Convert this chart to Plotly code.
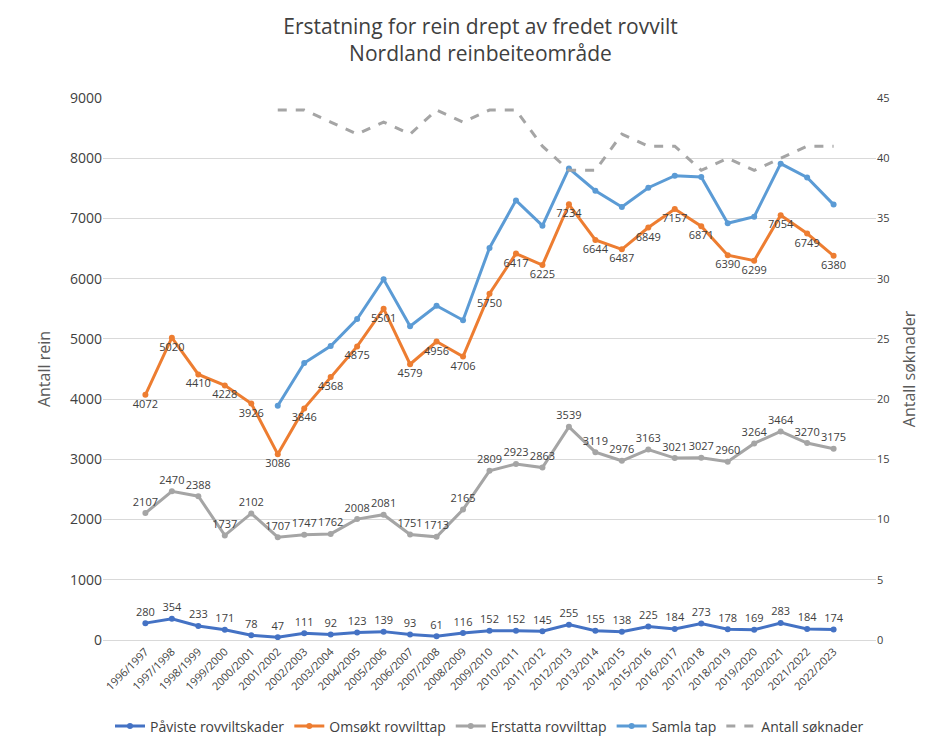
import plotly.graph_objects as go

years = [f"{y}/{y+1}" for y in range(1996, 2023)]
pavist = [280,354,233,171,78,47,111,92,123,139,93,61,116,152,152,145,255,155,138,225,184,273,178,169,283,184,174]
omsokt = [4072,5020,4410,4228,3926,3086,3846,4368,4875,5501,4579,4956,4706,5750,6417,6225,7234,6644,6487,6849,7157,6871,6390,6299,7054,6749,6380]
erstatta = [2107,2470,2388,1737,2102,1707,1747,1762,2008,2081,1751,1713,2165,2809,2923,2863,3539,3119,2976,3163,3021,3027,2960,3264,3464,3270,3175]
samla = [None]*5 + [3890,4600,4880,5330,5990,5210,5550,5310,6510,7300,6880,7830,7460,7190,7510,7710,7690,6920,7030,7910,7680,7230]
soknader = [None]*5 + [44,44,43,42,43,42,44,43,44,44,41,39,39,42,41,41,39,40,39,40,41,41]

tf = dict(size=11, color="#404040")
fig = go.Figure()
fig.add_trace(go.Scatter(x=years, y=pavist, name="Påviste rovviltskader", mode="lines+markers+text",
    line=dict(color="#4472C4", width=3), marker=dict(size=6), text=pavist, textposition="top center", textfont=tf))
fig.add_trace(go.Scatter(x=years, y=omsokt, name="Omsøkt rovvilttap", mode="lines+markers+text",
    line=dict(color="#ED7D31", width=3), marker=dict(size=6), text=omsokt, textposition="bottom center", textfont=tf))
fig.add_trace(go.Scatter(x=years, y=erstatta, name="Erstatta rovvilttap", mode="lines+markers+text",
    line=dict(color="#A5A5A5", width=3), marker=dict(size=6), text=erstatta, textposition="top center", textfont=tf))
fig.add_trace(go.Scatter(x=years, y=samla, name="Samla tap", mode="lines+markers",
    line=dict(color="#5B9BD5", width=3), marker=dict(size=6)))
fig.add_trace(go.Scatter(x=years, y=soknader, name="Antall søknader", mode="lines", yaxis="y2",
    line=dict(color="#A5A5A5", width=3, dash="dash")))

fig.update_layout(
    width=945, height=747, paper_bgcolor="white", plot_bgcolor="white",
    font=dict(family="Open Sans, Calibri, sans-serif", color="#595959"),
    title=dict(text="Erstatning for rein drept av fredet rovvilt<br>Nordland reinbeiteområde", x=0.5, y=0.965,
               font=dict(size=21, color="#404040")),
    margin=dict(l=95, r=77, t=90, b=104),
    xaxis=dict(tickangle=-45, tickfont=dict(size=11, color="#404040"), showline=True, linecolor="#D9D9D9"),
    yaxis=dict(range=[0, 9000], dtick=1000, gridcolor="#D9D9D9", zeroline=False,
               title=dict(text="Antall rein", font=dict(size=16)), tickfont=dict(size=14, color="#404040")),
    yaxis2=dict(overlaying="y", side="right", range=[0, 45], dtick=5, showgrid=False,
                title=dict(text="Antall søknader", font=dict(size=16)), tickfont=dict(size=11, color="#404040")),
    legend=dict(orientation="h", x=0.5, xanchor="center", y=-0.13, yanchor="top", font=dict(size=14, color="#404040")),
)
fig.write_html("out.html")
